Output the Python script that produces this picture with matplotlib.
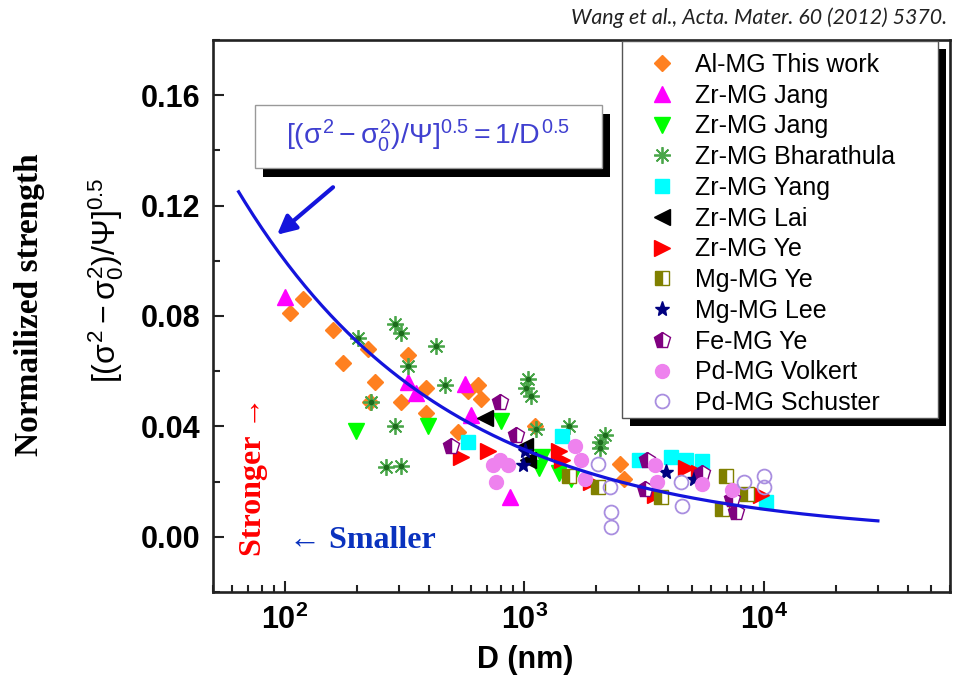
import numpy as np
import matplotlib.pyplot as plt
from matplotlib.patches import Rectangle
from matplotlib.ticker import MultipleLocator, LogLocator, NullFormatter

plt.rcParams['font.family'] = ['Liberation Sans', 'DejaVu Sans']
plt.rcParams['mathtext.fontset'] = 'custom'
plt.rcParams['mathtext.rm'] = 'Liberation Sans'
plt.rcParams['mathtext.it'] = 'Liberation Sans'
plt.rcParams['mathtext.bf'] = 'Liberation Sans:bold'

# sample size D (nm) and normalized strength for each data set
al_d = [119, 105, 159, 222, 175, 327, 238, 227, 305, 389, 389, 642, 661, 583, 530, 1110, 2520, 2600]
al_s = [0.086, 0.081, 0.075, 0.068, 0.063, 0.066, 0.056, 0.049, 0.049, 0.054, 0.045,
        0.055, 0.050, 0.053, 0.038, 0.040, 0.0265, 0.021]

jang_up_d = [100, 327, 353, 566, 600, 873]
jang_up_s = [0.087, 0.056, 0.052, 0.0555, 0.044, 0.0145]

jang_dn_d = [198, 396, 800, 1150, 1180, 1400, 1570]
jang_dn_s = [0.0385, 0.040, 0.042, 0.025, 0.029, 0.023, 0.021]

bhar_d = [289, 305, 428, 202, 289, 265, 305, 229, 327, 467, 1040, 1070, 1020, 1120, 1530, 2180, 2080, 2080]
bhar_s = [0.077, 0.074, 0.069, 0.072, 0.040, 0.0254, 0.0258, 0.049, 0.062, 0.055,
          0.057, 0.051, 0.054, 0.039, 0.040, 0.037, 0.0345, 0.032]

yang_d = [583, 1430, 3000, 4080, 4720, 5510, 10200]
yang_s = [0.0345, 0.0366, 0.028, 0.029, 0.028, 0.0276, 0.0127]

lai_d = [687, 1010, 1040]
lai_s = [0.043, 0.033, 0.028]

zrye_d = [545, 706, 1390, 1430, 1900, 3530, 4720, 5350, 9700]
zrye_s = [0.029, 0.031, 0.031, 0.028, 0.020, 0.015, 0.025, 0.023, 0.015]

mgye_d = [1530, 2040, 3740, 6930, 6670, 8490]
mgye_s = [0.022, 0.018, 0.0145, 0.022, 0.010, 0.0156]

lee_d = [990, 1010, 3920, 5100]
lee_s = [0.026, 0.031, 0.0236, 0.021]

feye_d = [794, 495, 926, 3240, 3200, 5510, 7340, 7640]
feye_s = [0.049, 0.033, 0.037, 0.028, 0.0174, 0.023, 0.0138, 0.0091]

volk_d = [741, 763, 794, 857, 1630, 1730, 1800, 3530, 3570, 5510, 7340]
volk_s = [0.026, 0.020, 0.028, 0.026, 0.033, 0.028, 0.021, 0.026, 0.020, 0.019, 0.017]

schu_d = [2310, 2310, 2290, 2040, 4540, 4500, 8240, 10000, 10000]
schu_s = [0.0091, 0.0036, 0.018, 0.0265, 0.011, 0.020, 0.020, 0.022, 0.018]

series = [
    ('Al-MG This work', al_d, al_s, dict(marker='D', ms=8.5, color='#ff8020')),
    ('Zr-MG Jang', jang_up_d, jang_up_s, dict(marker='^', ms=11, color='#ff00ff')),
    ('Zr-MG Jang', jang_dn_d, jang_dn_s, dict(marker='v', ms=11, color='#00ff00')),
    ('Zr-MG Bharathula', bhar_d, bhar_s, dict(marker=(8, 2, 0), ms=12, color='#4aa64a', mew=1.3)),
    ('Zr-MG Yang', yang_d, yang_s, dict(marker='s', ms=9.5, color='#00ffff')),
    ('Zr-MG Lai', lai_d, lai_s, dict(marker='<', ms=11, color='black')),
    ('Zr-MG Ye', zrye_d, zrye_s, dict(marker='>', ms=11, color='#ff0000')),
    ('Mg-MG Ye', mgye_d, mgye_s, dict(marker='s', ms=9.5, color='#808000', fillstyle='left',
                                       markerfacecoloralt='white')),
    ('Mg-MG Lee', lee_d, lee_s, dict(marker='*', ms=11, color='#000080')),
    ('Fe-MG Ye', feye_d, feye_s, dict(marker='p', ms=12, color='#800080', fillstyle='left',
                                       markerfacecoloralt='white')),
    ('Pd-MG Volkert', volk_d, volk_s, dict(marker='o', ms=10, color='#ee82ee')),
    ('Pd-MG Schuster', schu_d, schu_s, dict(marker='o', ms=10, color='#a98ee0', mfc='none', mew=1.3)),
]

blue = '#1414dc'

fig = plt.figure(figsize=(9.55, 6.8), dpi=100)
ax = fig.add_axes([0.2230, 0.1294, 0.7717, 0.8118])

for label, d, s, st in series:
    ax.plot(d, s, ls='none', label=label, zorder=2, **st)
# dark centres of the asterisks
ax.plot(bhar_d, bhar_s, ls='none', marker='o', ms=3, color='#1d6b1d', zorder=2)

# fit: [(s^2 - s0^2)/psi]^0.5 = 1/D^0.5
d_fit = np.logspace(np.log10(64), np.log10(30000), 300)
ax.plot(d_fit, d_fit ** -0.5, color=blue, lw=2.3, zorder=3)

ax.annotate('', xy=(90.8, 0.1088), xytext=(162, 0.1273),
            arrowprops=dict(arrowstyle='-|>', color=blue, lw=3, mutation_scale=28))

ax.set_xscale('log')
ax.set_xlim(50, 60000)
ax.set_ylim(-0.02, 0.18)
ax.set_xticks([1e2, 1e3, 1e4], labels=[r'$\mathbf{10^{2}}$', r'$\mathbf{10^{3}}$', r'$\mathbf{10^{4}}$'])
ax.xaxis.set_minor_locator(LogLocator(base=10, subs=np.arange(2, 10)))
ax.xaxis.set_minor_formatter(NullFormatter())
ax.set_yticks([0.0, 0.04, 0.08, 0.12, 0.16], labels=['0.00', '0.04', '0.08', '0.12', '0.16'])
ax.yaxis.set_minor_locator(MultipleLocator(0.02))
ax.tick_params(which='both', direction='in', top=False, right=False, width=1.5, color='#222')
ax.tick_params(which='major', length=8, labelsize=22, pad=9)
ax.tick_params(which='minor', length=5)
for t in ax.get_yticklabels():
    t.set_fontweight('bold')
for sp in ax.spines.values():
    sp.set_linewidth(1.9)
    sp.set_color('#222')

ax.set_xlabel('D (nm)', fontsize=22, fontweight='bold')
ax.xaxis.set_label_coords(0.423, -0.096)

# legend with its own frame and drop shadow
lx0, ly0, lw_, lh_ = 0.555, 0.3152, 0.4287, 0.683
ax.add_patch(Rectangle((lx0 + 0.0109, ly0 - 0.0145), lw_, lh_, transform=ax.transAxes,
                       fc='black', ec='none', zorder=4.4, clip_on=False))
ax.add_patch(Rectangle((lx0, ly0), lw_, lh_, transform=ax.transAxes,
                       fc='white', ec='#555', lw=1, zorder=4.5, clip_on=False))
ax.legend(loc='upper left', bbox_to_anchor=(0.5957, 0.9765), frameon=False, fontsize=18,
          handlelength=0.8, handletextpad=0.92, labelspacing=0.27, borderpad=0,
          borderaxespad=0)

# equation box with shadow
bx0, by0, bw, bh = 0.057, 0.7681, 0.4708, 0.1141
ax.add_patch(Rectangle((bx0 + 0.0109, by0 - 0.0163), bw, bh, transform=ax.transAxes,
                       fc='black', ec='none', zorder=4.4))
ax.add_patch(Rectangle((bx0, by0), bw, bh, transform=ax.transAxes,
                       fc='white', ec='#999', lw=1, zorder=4.5))
ax.text(0.2917, 0.826, r'$[(σ^2-σ^2_0)/Ψ]^{0.5}=1/D^{0.5}$', transform=ax.transAxes,
        color='#4040d0', fontsize=20.5, ha='center', va='center', zorder=5)

serif = ['Liberation Serif', 'DejaVu Serif']
fig.text(30 / 955, 1 - 305 / 680, 'Normailized strength', rotation=90, ha='center', va='center',
         family=serif, fontweight='bold', fontsize=24)
fig.text(106 / 955, 1 - 280 / 680, r'$[(σ^2-σ^2_0)/Ψ]^{0.5}$', rotation=90,
         ha='center', va='center', fontsize=23)
fig.text(253 / 955, 1 - 476 / 680, 'Stronger →', rotation=90, ha='center', va='center',
         family=serif, fontweight='bold', fontsize=23, color='#ff0000')
fig.text(362 / 955, 1 - 540 / 680, '← Smaller', ha='center', va='center',
         family=serif, fontweight='bold', fontsize=23, color='#0a32be')
fig.text(947 / 955, 1 - 18 / 680, 'Wang et al., Acta. Mater. 60 (2012) 5370.', ha='right',
         va='center', family=['Lato', 'DejaVu Sans'], style='italic', fontsize=15.4, color='#222')

fig.savefig('out.png', dpi=100)
